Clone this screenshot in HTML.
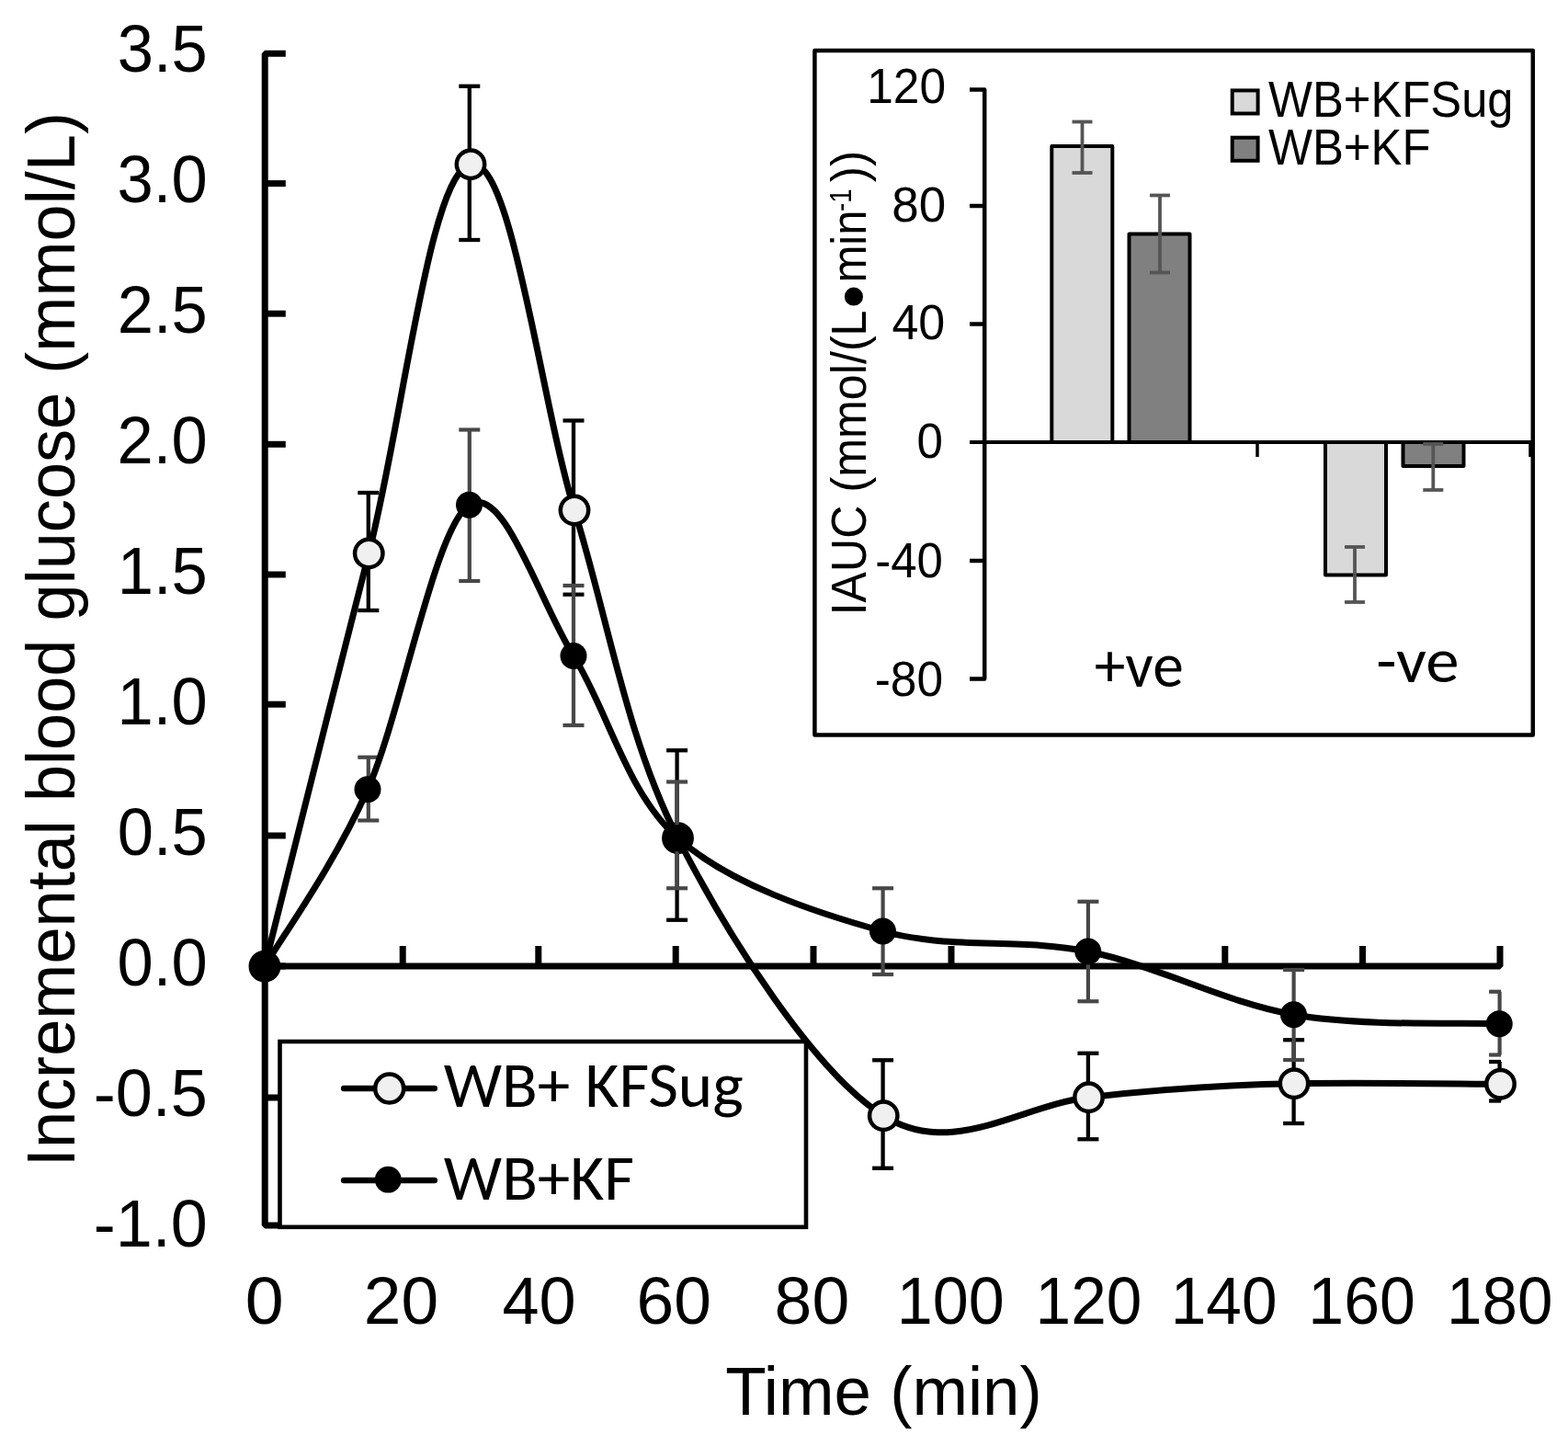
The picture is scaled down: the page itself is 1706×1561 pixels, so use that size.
<!DOCTYPE html>
<html><head><meta charset="utf-8"><title>Incremental blood glucose</title><style>html,body{margin:0;padding:0;background:#fff;overflow:hidden}svg{display:block}</style></head><body>
<svg width="1706" height="1561" viewBox="0 0 1706 1561"><rect width="1706" height="1561" fill="#fff"/>
<path d="M310.8,58.25 H288.2 V1333.00 H305" fill="none" stroke="#000" stroke-width="7" stroke-linejoin="bevel"/>
<g stroke="#000" stroke-width="7"><line x1="288.2" y1="199.60" x2="310.8" y2="199.60"/><line x1="288.2" y1="341.20" x2="310.8" y2="341.20"/><line x1="288.2" y1="483.30" x2="310.8" y2="483.30"/><line x1="288.2" y1="625.00" x2="310.8" y2="625.00"/><line x1="288.2" y1="766.20" x2="310.8" y2="766.20"/><line x1="288.2" y1="909.00" x2="310.8" y2="909.00"/><line x1="288.2" y1="1051.00" x2="310.8" y2="1051.00"/><line x1="288.2" y1="1194.00" x2="310.8" y2="1194.00"/></g>
<text x="127.73" y="78.40" font-family="'Liberation Sans', Arial, sans-serif" font-size="72.60" textLength="98.10" lengthAdjust="spacingAndGlyphs">3.5</text><text x="127.56" y="220.33" font-family="'Liberation Sans', Arial, sans-serif" font-size="72.60" textLength="98.10" lengthAdjust="spacingAndGlyphs">3.0</text><text x="127.73" y="362.26" font-family="'Liberation Sans', Arial, sans-serif" font-size="72.60" textLength="98.10" lengthAdjust="spacingAndGlyphs">2.5</text><text x="127.56" y="504.19" font-family="'Liberation Sans', Arial, sans-serif" font-size="72.60" textLength="98.10" lengthAdjust="spacingAndGlyphs">2.0</text><text x="127.73" y="646.12" font-family="'Liberation Sans', Arial, sans-serif" font-size="72.60" textLength="98.10" lengthAdjust="spacingAndGlyphs">1.5</text><text x="127.56" y="788.05" font-family="'Liberation Sans', Arial, sans-serif" font-size="72.60" textLength="98.10" lengthAdjust="spacingAndGlyphs">1.0</text><text x="127.73" y="929.98" font-family="'Liberation Sans', Arial, sans-serif" font-size="72.60" textLength="98.10" lengthAdjust="spacingAndGlyphs">0.5</text><text x="127.56" y="1071.91" font-family="'Liberation Sans', Arial, sans-serif" font-size="72.60" textLength="98.10" lengthAdjust="spacingAndGlyphs">0.0</text><text x="101.76" y="1213.84" font-family="'Liberation Sans', Arial, sans-serif" font-size="72.60" textLength="124.18" lengthAdjust="spacingAndGlyphs">-0.5</text><text x="101.76" y="1355.77" font-family="'Liberation Sans', Arial, sans-serif" font-size="72.60" textLength="123.99" lengthAdjust="spacingAndGlyphs">-1.0</text>
<path d="M288.2,1051 H1632 V1029" fill="none" stroke="#000" stroke-width="7" stroke-linejoin="bevel"/>
<g stroke="#000" stroke-width="7"><line x1="438.2" y1="1051" x2="438.2" y2="1029"/><line x1="585.8" y1="1051" x2="585.8" y2="1029"/><line x1="735.2" y1="1051" x2="735.2" y2="1029"/><line x1="885.0" y1="1051" x2="885.0" y2="1029"/><line x1="1035.0" y1="1051" x2="1035.0" y2="1029"/><line x1="1184.0" y1="1051" x2="1184.0" y2="1029"/><line x1="1332.8" y1="1051" x2="1332.8" y2="1029"/><line x1="1482.5" y1="1051" x2="1482.5" y2="1029"/></g>
<text x="266.78" y="1439.50" font-family="'Liberation Sans', Arial, sans-serif" font-size="72.60" textLength="41.93" lengthAdjust="spacingAndGlyphs">0</text><text x="395.85" y="1439.50" font-family="'Liberation Sans', Arial, sans-serif" font-size="72.60" textLength="81.26" lengthAdjust="spacingAndGlyphs">20</text><text x="546.38" y="1439.50" font-family="'Liberation Sans', Arial, sans-serif" font-size="72.60" textLength="80.19" lengthAdjust="spacingAndGlyphs">40</text><text x="692.54" y="1439.50" font-family="'Liberation Sans', Arial, sans-serif" font-size="72.60" textLength="81.37" lengthAdjust="spacingAndGlyphs">60</text><text x="842.58" y="1439.50" font-family="'Liberation Sans', Arial, sans-serif" font-size="72.60" textLength="81.64" lengthAdjust="spacingAndGlyphs">80</text><text x="975.74" y="1439.50" font-family="'Liberation Sans', Arial, sans-serif" font-size="72.60" textLength="116.96" lengthAdjust="spacingAndGlyphs">100</text><text x="1126.60" y="1439.50" font-family="'Liberation Sans', Arial, sans-serif" font-size="72.60" textLength="115.67" lengthAdjust="spacingAndGlyphs">120</text><text x="1273.80" y="1439.50" font-family="'Liberation Sans', Arial, sans-serif" font-size="72.60" textLength="115.67" lengthAdjust="spacingAndGlyphs">140</text><text x="1423.36" y="1439.50" font-family="'Liberation Sans', Arial, sans-serif" font-size="72.60" textLength="116.53" lengthAdjust="spacingAndGlyphs">160</text><text x="1574.12" y="1439.50" font-family="'Liberation Sans', Arial, sans-serif" font-size="72.60" textLength="115.35" lengthAdjust="spacingAndGlyphs">180</text>
<text x="789.16" y="1538.90" font-family="'Liberation Sans', Arial, sans-serif" font-size="74.60" textLength="344.60" lengthAdjust="spacingAndGlyphs">Time (min)</text>
<g transform="rotate(-90)"><text x="-1269.17" y="81.20" font-family="'Liberation Sans', Arial, sans-serif" font-size="74.20" textLength="1147.09" lengthAdjust="spacingAndGlyphs">Incremental blood glucose (mmol/L)</text></g>
<rect x="304.5" y="1133" width="572.5" height="201.8" fill="#fff" stroke="#000" stroke-width="4.6"/>
<g stroke="#000" stroke-width="6.6" stroke-linecap="round"><line x1="374.2" y1="1184" x2="472.7" y2="1184"/><line x1="374.2" y1="1284" x2="472.7" y2="1284"/></g>
<circle cx="423.7" cy="1184" r="15.5" fill="#f0f0f0" stroke="#000" stroke-width="4.5"/>
<circle cx="422.3" cy="1283.2" r="14.4" fill="#000"/>
<text x="482.77" y="1204.40" font-family="Carlito, 'Liberation Sans', sans-serif" font-size="69.40" textLength="326.03" lengthAdjust="spacingAndGlyphs">WB+ KFSug</text>
<text x="482.77" y="1305.30" font-family="Carlito, 'Liberation Sans', sans-serif" font-size="69.40" textLength="207.32" lengthAdjust="spacingAndGlyphs">WB+KF</text>
<g stroke="#000" stroke-width="4.3" fill="none"><line x1="400.80" y1="536.00" x2="400.80" y2="664.00"/><line x1="389.30" y1="536.00" x2="412.30" y2="536.00"/><line x1="389.30" y1="664.00" x2="412.30" y2="664.00"/><line x1="510.80" y1="93.75" x2="510.80" y2="261.00"/><line x1="499.30" y1="93.75" x2="522.30" y2="93.75"/><line x1="499.30" y1="261.00" x2="522.30" y2="261.00"/><line x1="624.00" y1="457.50" x2="624.00" y2="646.70"/><line x1="612.50" y1="457.50" x2="635.50" y2="457.50"/><line x1="612.50" y1="646.70" x2="635.50" y2="646.70"/><line x1="736.60" y1="816.25" x2="736.60" y2="1000.75"/><line x1="725.10" y1="816.25" x2="748.10" y2="816.25"/><line x1="725.10" y1="1000.75" x2="748.10" y2="1000.75"/><line x1="960.60" y1="1153.25" x2="960.60" y2="1270.75"/><line x1="949.10" y1="1153.25" x2="972.10" y2="1153.25"/><line x1="949.10" y1="1270.75" x2="972.10" y2="1270.75"/><line x1="1183.90" y1="1145.75" x2="1183.90" y2="1239.25"/><line x1="1172.40" y1="1145.75" x2="1195.40" y2="1145.75"/><line x1="1172.40" y1="1239.25" x2="1195.40" y2="1239.25"/><line x1="1407.60" y1="1131.25" x2="1407.60" y2="1222.00"/><line x1="1396.10" y1="1131.25" x2="1419.10" y2="1131.25"/><line x1="1396.10" y1="1222.00" x2="1419.10" y2="1222.00"/><line x1="1631.60" y1="1155.00" x2="1631.60" y2="1197.50"/><line x1="1620.10" y1="1155.00" x2="1633.10" y2="1155.00"/><line x1="1620.10" y1="1197.50" x2="1633.10" y2="1197.50"/></g>
<path d="M288.00,1051.20 C306.88,976.33 363.92,747.41 401.25,602.00 C438.58,456.59 467.25,188.15 512.00,178.75 C556.75,169.35 587.42,432.83 625.00,555.00 C662.58,677.17 681.46,801.96 737.50,911.75 C793.54,1021.54 886.75,1166.75 961.25,1213.75 C1035.75,1260.75 1110.00,1202.25 1184.50,1193.75 C1259.00,1185.25 1333.30,1179.95 1408.00,1178.75 C1482.70,1177.55 1595.08,1179.17 1632.50,1179.25" fill="none" stroke="#000" stroke-width="7"/>
<circle cx="288.00" cy="1051.20" r="15.2" fill="#f0f0f0" stroke="#000" stroke-width="4.5"/><circle cx="401.25" cy="602.00" r="15.2" fill="#f0f0f0" stroke="#000" stroke-width="4.5"/><circle cx="512.00" cy="178.75" r="15.2" fill="#f0f0f0" stroke="#000" stroke-width="4.5"/><circle cx="625.00" cy="555.00" r="15.2" fill="#f0f0f0" stroke="#000" stroke-width="4.5"/><circle cx="737.50" cy="911.75" r="15.2" fill="#f0f0f0" stroke="#000" stroke-width="4.5"/><circle cx="961.25" cy="1213.75" r="15.2" fill="#f0f0f0" stroke="#000" stroke-width="4.5"/><circle cx="1184.50" cy="1193.75" r="15.2" fill="#f0f0f0" stroke="#000" stroke-width="4.5"/><circle cx="1408.00" cy="1178.75" r="15.2" fill="#f0f0f0" stroke="#000" stroke-width="4.5"/><circle cx="1632.50" cy="1179.25" r="15.2" fill="#f0f0f0" stroke="#000" stroke-width="4.5"/>
<g stroke="#474747" stroke-width="4.2" fill="none"><line x1="400.80" y1="823.75" x2="400.80" y2="892.50"/><line x1="389.30" y1="823.75" x2="412.30" y2="823.75"/><line x1="389.30" y1="892.50" x2="412.30" y2="892.50"/><line x1="510.80" y1="467.50" x2="510.80" y2="632.00"/><line x1="499.30" y1="467.50" x2="522.30" y2="467.50"/><line x1="499.30" y1="632.00" x2="522.30" y2="632.00"/><line x1="624.00" y1="637.00" x2="624.00" y2="789.00"/><line x1="612.50" y1="637.00" x2="635.50" y2="637.00"/><line x1="612.50" y1="789.00" x2="635.50" y2="789.00"/><line x1="736.60" y1="850.50" x2="736.60" y2="966.25"/><line x1="725.10" y1="850.50" x2="748.10" y2="850.50"/><line x1="725.10" y1="966.25" x2="748.10" y2="966.25"/><line x1="960.60" y1="966.25" x2="960.60" y2="1060.00"/><line x1="949.10" y1="966.25" x2="972.10" y2="966.25"/><line x1="949.10" y1="1060.00" x2="972.10" y2="1060.00"/><line x1="1183.90" y1="980.75" x2="1183.90" y2="1089.25"/><line x1="1172.40" y1="980.75" x2="1195.40" y2="980.75"/><line x1="1172.40" y1="1089.25" x2="1195.40" y2="1089.25"/><line x1="1407.60" y1="1055.00" x2="1407.60" y2="1153.00"/><line x1="1396.10" y1="1055.00" x2="1419.10" y2="1055.00"/><line x1="1396.10" y1="1153.00" x2="1419.10" y2="1153.00"/><line x1="1631.60" y1="1078.75" x2="1631.60" y2="1147.50"/><line x1="1620.10" y1="1078.75" x2="1633.10" y2="1078.75"/><line x1="1620.10" y1="1147.50" x2="1633.10" y2="1147.50"/></g>
<path d="M288.00,1051.20 C306.67,1019.12 362.92,942.41 400.00,858.75 C437.08,775.09 473.17,573.46 510.50,549.25 C547.83,525.04 586.17,653.08 624.00,713.50 C661.83,773.92 681.42,861.83 737.50,911.75 C793.58,961.67 886.12,992.46 960.50,1013.00 C1034.88,1033.54 1109.25,1019.88 1183.75,1035.00 C1258.25,1050.12 1332.92,1090.62 1407.50,1103.75 C1482.08,1116.88 1593.96,1112.08 1631.25,1113.75" fill="none" stroke="#000" stroke-width="7"/>
<circle cx="288.00" cy="1051.20" r="14.5" fill="#000"/><circle cx="400.00" cy="858.75" r="14.5" fill="#000"/><circle cx="510.50" cy="549.25" r="14.5" fill="#000"/><circle cx="624.00" cy="713.50" r="14.5" fill="#000"/><circle cx="737.50" cy="911.75" r="14.5" fill="#000"/><circle cx="960.50" cy="1013.00" r="14.5" fill="#000"/><circle cx="1183.75" cy="1035.00" r="14.5" fill="#000"/><circle cx="1407.50" cy="1103.75" r="14.5" fill="#000"/><circle cx="1631.25" cy="1113.75" r="14.5" fill="#000"/>
<rect x="886.4" y="55" width="781.4" height="744.6" fill="#fff" stroke="#000" stroke-width="4.5" stroke-linejoin="round"/>
<g stroke="#000" stroke-width="4" stroke-linejoin="round"><rect x="1144.3" y="159" width="66" height="322" fill="#d9d9d9"/><rect x="1228.5" y="254.5" width="66" height="226.5" fill="#808080"/><rect x="1442" y="481" width="66" height="144.5" fill="#d9d9d9"/><rect x="1526.5" y="481" width="66" height="26" fill="#808080"/></g>
<path d="M1055,97.5 H1071.2 V738.5 H1055" fill="none" stroke="#000" stroke-width="4.5" stroke-linejoin="round"/>
<g stroke="#000" stroke-width="4.5"><line x1="1055" y1="224.0" x2="1071.2" y2="224.0"/><line x1="1055" y1="352.5" x2="1071.2" y2="352.5"/><line x1="1055" y1="610.0" x2="1071.2" y2="610.0"/></g>
<line x1="1055" y1="481" x2="1667" y2="481" stroke="#000" stroke-width="4"/>
<g stroke="#000" stroke-width="3.5"><line x1="1368" y1="481" x2="1368" y2="497"/><line x1="1665" y1="481" x2="1665" y2="497"/></g>
<g stroke="#555" stroke-width="3.8"><line x1="1177.5" y1="132.5" x2="1177.5" y2="188.0"/><line x1="1166.5" y1="132.5" x2="1188.5" y2="132.5"/><line x1="1166.5" y1="188.0" x2="1188.5" y2="188.0"/><line x1="1262.0" y1="212.5" x2="1262.0" y2="296.5"/><line x1="1251.0" y1="212.5" x2="1273.0" y2="212.5"/><line x1="1251.0" y1="296.5" x2="1273.0" y2="296.5"/><line x1="1474.0" y1="595.0" x2="1474.0" y2="655.0"/><line x1="1463.0" y1="595.0" x2="1485.0" y2="595.0"/><line x1="1463.0" y1="655.0" x2="1485.0" y2="655.0"/><line x1="1559.3" y1="483.0" x2="1559.3" y2="533.0"/><line x1="1548.3" y1="483.0" x2="1570.3" y2="483.0"/><line x1="1548.3" y1="533.0" x2="1570.3" y2="533.0"/></g>
<text x="943.24" y="111.90" font-family="'Liberation Sans', Arial, sans-serif" font-size="53.60" textLength="85.84" lengthAdjust="spacingAndGlyphs">120</text><text x="970.35" y="240.50" font-family="'Liberation Sans', Arial, sans-serif" font-size="53.60" textLength="58.86" lengthAdjust="spacingAndGlyphs">80</text><text x="970.43" y="369.10" font-family="'Liberation Sans', Arial, sans-serif" font-size="53.60" textLength="57.84" lengthAdjust="spacingAndGlyphs">40</text><text x="997.56" y="498.20" font-family="'Liberation Sans', Arial, sans-serif" font-size="53.60" textLength="28.42" lengthAdjust="spacingAndGlyphs">0</text><text x="952.31" y="627.80" font-family="'Liberation Sans', Arial, sans-serif" font-size="53.60" textLength="73.62" lengthAdjust="spacingAndGlyphs">-40</text><text x="951.68" y="757.00" font-family="'Liberation Sans', Arial, sans-serif" font-size="53.60" textLength="74.36" lengthAdjust="spacingAndGlyphs">-80</text>
<g transform="rotate(-90)"><text x="-669.34" y="941.70" font-family="'Liberation Sans', Arial, sans-serif" font-size="54.10" textLength="331.85" lengthAdjust="spacingAndGlyphs">IAUC (mmol/(L</text><text x="-335.46" y="953.80" font-family="'Liberation Sans', Arial, sans-serif" font-size="74.00" textLength="25.93" lengthAdjust="spacingAndGlyphs">•</text><text x="-307.51" y="941.70" font-family="'Liberation Sans', Arial, sans-serif" font-size="54.10" textLength="79.07" lengthAdjust="spacingAndGlyphs">min</text><text x="-229.95" y="926.20" font-family="'Liberation Sans', Arial, sans-serif" font-size="34.00" textLength="24.61" lengthAdjust="spacingAndGlyphs">-1</text><text x="-198.29" y="941.70" font-family="'Liberation Sans', Arial, sans-serif" font-size="54.10" textLength="34.36" lengthAdjust="spacingAndGlyphs">))</text></g>
<text x="1190.78" y="747.40" font-family="Carlito, 'Liberation Sans', sans-serif" font-size="68.60" textLength="96.98" lengthAdjust="spacingAndGlyphs">+ve</text>
<text x="1497.26" y="742.40" font-family="Carlito, 'Liberation Sans', sans-serif" font-size="68.60" textLength="90.24" lengthAdjust="spacingAndGlyphs">-ve</text>
<rect x="1340.7" y="98.4" width="27.9" height="25.1" fill="#d9d9d9" stroke="#000" stroke-width="4"/>
<rect x="1340.7" y="149.7" width="27.9" height="25.1" fill="#808080" stroke="#000" stroke-width="4"/>
<text x="1380.05" y="127.40" font-family="'Liberation Sans', Arial, sans-serif" font-size="55.80" textLength="266.53" lengthAdjust="spacingAndGlyphs">WB+KFSug</text>
<text x="1380.05" y="179.00" font-family="'Liberation Sans', Arial, sans-serif" font-size="55.80" textLength="176.40" lengthAdjust="spacingAndGlyphs">WB+KF</text></svg>
</body></html>
